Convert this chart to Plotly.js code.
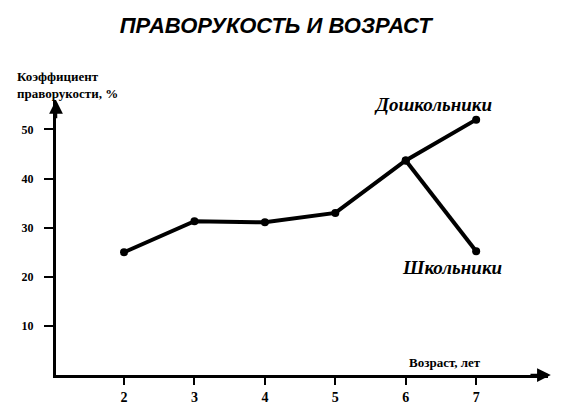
<!DOCTYPE html>
<html>
<head>
<meta charset="utf-8">
<script src="https://cdn.plot.ly/plotly-3.0.1.min.js"></script>
<style>
  html, body { margin: 0; padding: 0; background: #fff; }
  #chart { width: 572px; height: 415px; }
</style>
</head>
<body>
<div id="chart"></div>
<script>
// values
ages = [2, 3, 4, 5, 6, 7]
preschool = [25, 31.3, 31.1, 33, 43.7, 52]
schoolAges = [6, 7]
school = [43.7, 25.2]
yTicks = [10, 20, 30, 40, 50]

let serif = 'Liberation Serif, DejaVu Serif, serif'

let traces = [
  {
    type: 'scatter', mode: 'lines+markers', name: 'Дошкольники',
    x: ages, y: preschool,
    line: { color: '#000', width: 4 },
    marker: { color: '#000', size: 8 }
  },
  {
    type: 'scatter', mode: 'lines+markers', name: 'Школьники',
    x: schoolAges, y: school,
    line: { color: '#000', width: 4 },
    marker: { color: '#000', size: 8 }
  }
]

let layout = {
  width: 572, height: 415,
  margin: { l: 56, r: 24, t: 100, b: 40 },
  showlegend: false,
  paper_bgcolor: '#fff', plot_bgcolor: '#fff',
  title: {
    text: 'ПРАВОРУКОСТЬ И ВОЗРАСТ',
    x: 0.482, xanchor: 'center', y: 0.94, yanchor: 'middle',
    font: { family: 'Liberation Sans, Arial, sans-serif', size: 22, color: '#000', weight: 'bold', style: 'italic' }
  },
  xaxis: {
    range: [1.034, 8.02], showgrid: false, zeroline: false,
    showline: true, linecolor: '#000', linewidth: 3,
    tickvals: ages, ticks: 'outside', ticklen: 7, tickwidth: 2, tickcolor: '#000',
    tickfont: { family: serif, size: 14, color: '#000', weight: 'bold' }
  },
  yaxis: {
    range: [0, 56], showgrid: false, zeroline: false,
    showline: true, linecolor: '#000', linewidth: 3,
    tickvals: yTicks, ticks: 'outside', ticklen: 9, tickwidth: 2, tickcolor: '#000',
    ticklabelstandoff: 8,
    tickfont: { family: serif, size: 12, color: '#000', weight: 'bold' }
  },
  annotations: [
    // axis arrowheads
    { x: 8.06, y: 0, ax: 7.75, ay: 0, xref: 'x', yref: 'y', axref: 'x', ayref: 'y',
      text: '', showarrow: true, arrowhead: 2, arrowsize: 1.1, arrowwidth: 2.5, arrowcolor: '#000' },
    { x: 1.034, y: 56, ax: 1.034, ay: 52, xref: 'x', yref: 'y', axref: 'x', ayref: 'y',
      text: '', showarrow: true, arrowhead: 2, arrowsize: 1.1, arrowwidth: 2.5, arrowcolor: '#000' },
    // series labels
    { x: 6.39, y: 55.1, xref: 'x', yref: 'y', text: 'Дошкольники', showarrow: false,
      font: { family: serif, size: 19, color: '#000', weight: 'bold', style: 'italic' } },
    { x: 6.65, y: 21.9, xref: 'x', yref: 'y', text: 'Школьники', showarrow: false,
      font: { family: serif, size: 19, color: '#000', weight: 'bold', style: 'italic' } },
    // axis titles
    { x: (15 - 56) / 492, y: (375 - 85) / 275, xref: 'paper', yref: 'paper', xanchor: 'left', yanchor: 'middle',
      text: 'Коэффициент<br>праворукости, %', align: 'left', showarrow: false,
      font: { family: serif, size: 13, color: '#000', weight: 'bold' } },
    { x: (445 - 56) / 492, y: 2.6, xref: 'paper', yref: 'y', xanchor: 'center', yanchor: 'middle',
      text: 'Возраст, лет', showarrow: false,
      font: { family: serif, size: 13, color: '#000', weight: 'bold' } }
  ]
}

Plotly.newPlot('chart', traces, layout, { displayModeBar: false, staticPlot: true })
</script>
</body>
</html>
